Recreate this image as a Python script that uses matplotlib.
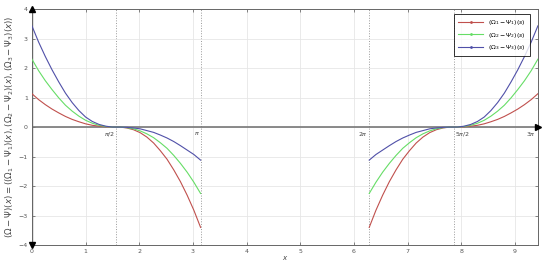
import numpy as np
import matplotlib.pyplot as plt
from matplotlib.lines import Line2D

# ---------------- data ----------------
# first segment, x from 0 to pi
x_seg = [0.0, 0.125, 0.25, 0.375, 0.5, 0.625, 0.75, 0.875, 1.0, 1.125, 1.25, 1.375, 1.5,
         1.571, 1.642, 1.767, 1.892, 2.017, 2.142, 2.267, 2.392, 2.517, 2.642, 2.767,
         2.892, 3.017, 3.142]
# second segment on [2pi, 3pi] is the first one mirrored about x = 3pi/2
mirror_at = 3 * np.pi

red = [1.13, 0.93, 0.76, 0.61, 0.48, 0.36, 0.26, 0.18, 0.11, 0.06, 0.03, 0.01, 0.00,
       0.0, -0.00, -0.03, -0.09, -0.19, -0.34, -0.54, -0.80, -1.09, -1.45, -1.85,
       -2.31, -2.82, -3.40]
green = [2.30, 1.91, 1.57, 1.27, 0.99, 0.74, 0.54, 0.37, 0.23, 0.13, 0.06, 0.02, 0.00,
         0.0, -0.00, -0.02, -0.06, -0.13, -0.23, -0.36, -0.53, -0.72, -0.96, -1.23,
         -1.53, -1.87, -2.25]
blue = [3.43, 2.88, 2.39, 1.94, 1.53, 1.15, 0.83, 0.56, 0.34, 0.19, 0.09, 0.03, 0.00,
        0.0, 0.00, -0.01, -0.03, -0.06, -0.12, -0.18, -0.27, -0.37, -0.49, -0.63,
        -0.78, -0.93, -1.12]

labels = [r'$(\Omega_1 - \Psi_1)(s)$', r'$(\Omega_2 - \Psi_2)(s)$',
          r'$(\Omega_3 - \Psi_3)(s)$']
colors = ['#c0504d', '#66dd66', '#5050a8']

special_x = [np.pi / 2, np.pi, 2 * np.pi, 5 * np.pi / 2, 3 * np.pi]
special_lbl = [r'$\pi/2$', r'$\pi$', r'$2\pi$', r'$5\pi/2$', r'$3\pi$']
special_ha = ['right', 'center', 'right', 'left', 'right']

# ------------------------------------------------------------
fig = plt.figure(figsize=(5.5, 2.65), dpi=100)
ax = fig.add_axes([0.058, 0.075, 0.92, 0.891])

xs = np.array(x_seg)
for yv, c in zip([red, green, blue], colors):
    ax.plot(xs, yv, color=c, lw=0.8, zorder=3)
    ax.plot(mirror_at - xs, yv, color=c, lw=0.8, zorder=3)

ax.set_xlim(0, 3 * np.pi)
ax.set_ylim(-4, 4)
ax.set_xticks(range(0, 10))
ax.set_yticks(range(-4, 5))
ax.grid(True, color='#e6e6e6', lw=0.6)
ax.tick_params(direction='in', length=2, width=0.5, labelsize=4.5, colors='#555555',
               top=True, right=True, pad=3)
for sp in ax.spines.values():
    sp.set_color('#666666')
    sp.set_linewidth(0.7)

# dotted lines and labels at the special points
for sx, sl, ha in zip(special_x, special_lbl, special_ha):
    if sx < 3 * np.pi:
        ax.axvline(sx, color='#999999', ls=':', lw=0.7, zorder=1)
    dx = {'right': -0.03, 'left': 0.03, 'center': -0.06}[ha]
    ax.text(sx + dx, -0.1, sl, fontsize=4.5, color='#444444', ha=ha, va='top')

# axis lines with arrows
ax.axhline(0, color='#777777', lw=1.2, zorder=2)
ax.plot([3 * np.pi], [0], marker='>', color='black', ms=4, clip_on=False, zorder=5)
ax.plot([0], [4], marker='^', color='black', ms=4, clip_on=False, zorder=5)
ax.plot([0], [-4], marker='v', color='black', ms=4, clip_on=False, zorder=5)
ax.axvline(0, color='#666666', lw=1.0, zorder=2)

ax.set_xlabel(r'$x$', fontsize=5, color='#444444', labelpad=0)
ax.set_ylabel(r'$(\Omega - \Psi)(x) = ((\Omega_1 - \Psi_1)(x), (\Omega_2 - \Psi_2)(x), (\Omega_3 - \Psi_3)(x))$',
              fontsize=6.2, color='#444444', labelpad=2)

handles = [Line2D([], [], color=c, lw=0.8, marker='.', ms=2) for c in colors]
leg = ax.legend(handles, labels, loc='upper right', bbox_to_anchor=(0.99, 0.99),
                fontsize=4.5, frameon=True, fancybox=False, edgecolor='black',
                handlelength=4, borderpad=0.6, labelspacing=0.55)
leg.get_frame().set_linewidth(0.7)

fig.savefig('out.png', dpi=100)
